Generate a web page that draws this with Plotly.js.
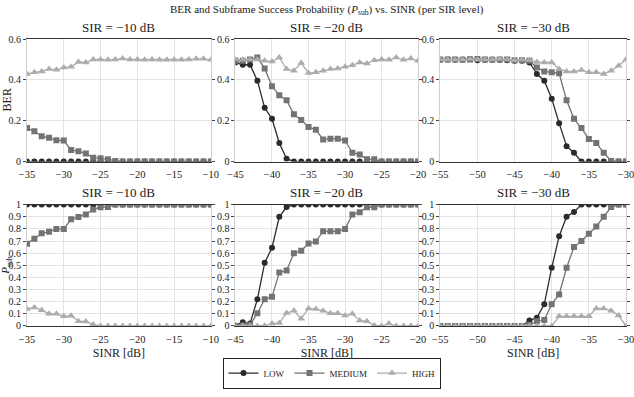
<!DOCTYPE html>
<html>
<head>
<meta charset="utf-8">
<script src="https://cdn.plot.ly/plotly-3.0.1.min.js"></script>
<style>
  html, body { margin: 0; padding: 0; background: #fff; }
  #plot { width: 634px; height: 397px; }
</style>
</head>
<body>
<div id="plot"></div>
<script>
// SINR axes (dB) for each SIR level
const sinr10 = [-35,-34,-33,-32,-31,-30,-29,-28,-27,-26,-25,-24,-23,-22,-21,-20,-19,-18,-17,-16,-15,-14,-13,-12,-11,-10];
const sinr20 = [-45,-44,-43,-42,-41,-40,-39,-38,-37,-36,-35,-34,-33,-32,-31,-30,-29,-28,-27,-26,-25,-24,-23,-22,-21,-20];
const sinr30 = [-55,-54,-53,-52,-51,-50,-49,-48,-47,-46,-45,-44,-43,-42,-41,-40,-39,-38,-37,-36,-35,-34,-33,-32,-31,-30];

const levels = ["LOW", "MEDIUM", "HIGH"];
const sirTitles = ["SIR = \u221210 dB", "SIR = \u221220 dB", "SIR = \u221230 dB"];

// BER, SIR = -10 dB
const ber10_low  = [0,0,0,0,0,0,0,0,0,0,0,0,0,0,0,0,0,0,0,0,0,0,0,0,0,0];
const ber10_med  = [0.164,0.148,0.124,0.116,0.104,0.103,0.056,0.051,0.039,0.019,0.016,0.011,0.003,0,0,0,0,0,0,0,0,0,0,0,0,0];
const ber10_high = [0.429,0.437,0.441,0.453,0.449,0.461,0.464,0.488,0.485,0.5,0.5,0.498,0.5,0.505,0.5,0.5,0.498,0.5,0.498,0.498,0.498,0.498,0.5,0.503,0.503,0.498];
// BER, SIR = -20 dB
const ber20_low  = [0.485,0.474,0.474,0.396,0.263,0.209,0.091,0.014,0,0,0,0,0,0,0,0,0,0,0,0,0,0,0,0,0,0];
const ber20_med  = [0.493,0.493,0.5,0.509,0.456,0.369,0.324,0.3,0.231,0.204,0.169,0.156,0.108,0.112,0.112,0.103,0.043,0.035,0.011,0.011,0,0,0,0,0,0];
const ber20_high = [0.5,0.498,0.5,0.5,0.493,0.49,0.509,0.453,0.445,0.482,0.433,0.437,0.445,0.453,0.456,0.464,0.472,0.485,0.48,0.496,0.5,0.498,0.509,0.498,0.504,0.493];
// BER, SIR = -30 dB
const ber30_low  = [0.498,0.5,0.498,0.5,0.502,0.496,0.498,0.5,0.498,0.496,0.493,0.493,0.485,0.429,0.396,0.308,0.188,0.075,0.043,0,0,0,0,0,0,0];
const ber30_med  = [0.5,0.5,0.5,0.498,0.5,0.502,0.5,0.498,0.5,0.5,0.496,0.496,0.493,0.46,0.441,0.437,0.432,0.3,0.209,0.164,0.111,0.091,0.043,0.003,0,0];
const ber30_high = [0.5,0.5,0.498,0.5,0.502,0.5,0.5,0.5,0.502,0.5,0.496,0.498,0.496,0.488,0.485,0.485,0.453,0.441,0.441,0.448,0.437,0.437,0.429,0.445,0.469,0.5];

// P_sub, SIR = -10 dB
const psub10_low  = [1,1,1,1,1,1,1,1,1,1,1,1,1,1,1,1,1,1,1,1,1,1,1,1,1,1];
const psub10_med  = [0.677,0.718,0.763,0.777,0.798,0.8,0.879,0.898,0.919,0.96,0.978,0.98,1,1,1,1,1,1,1,1,1,1,1,1,1,1];
const psub10_high = [0.14,0.153,0.13,0.1,0.1,0.08,0.085,0.04,0.038,0.013,0,0,0,0,0,0,0,0,0,0,0,0,0,0,0,0];
// P_sub, SIR = -20 dB
const psub20_low  = [0.005,0.03,0.02,0.22,0.52,0.645,0.9,0.98,1,1,1,1,1,1,1,1,1,1,1,1,1,1,1,1,1,1];
const psub20_med  = [0,0.005,0.01,0.105,0.22,0.24,0.44,0.457,0.6,0.62,0.68,0.696,0.78,0.78,0.78,0.8,0.919,0.938,0.978,0.978,1,1,1,1,1,1];
const psub20_high = [0,0,0,0,0.003,0.02,0.025,0.107,0.126,0.06,0.145,0.14,0.126,0.105,0.105,0.086,0.1,0.046,0.04,0.005,0,0.02,0,0,0,0];
// P_sub, SIR = -30 dB
const psub30_low  = [0,0,0,0,0,0,0,0,0,0,0,0,0.046,0.067,0.18,0.48,0.74,0.9,0.94,1,1,1,1,1,1,1];
const psub30_med  = [0,0,0,0,0,0,0,0,0,0,0,0,0.01,0.04,0.05,0.18,0.26,0.48,0.65,0.7,0.76,0.82,0.9,0.98,1,1];
const psub30_high = [0,0,0,0,0,0,0,0,0,0,0,0,0,0,0,0,0.08,0.08,0.08,0.08,0.08,0.145,0.145,0.126,0.086,0];

const colors = ["#2b2b2b", "#737373", "#acacac"];
const symbols = ["circle", "square", "triangle-up"];
const font = "Liberation Serif";

const panels = [
    {x: sinr10, ys: [ber10_low, ber10_med, ber10_high]},
    {x: sinr20, ys: [ber20_low, ber20_med, ber20_high]},
    {x: sinr30, ys: [ber30_low, ber30_med, ber30_high]},
    {x: sinr10, ys: [psub10_low, psub10_med, psub10_high]},
    {x: sinr20, ys: [psub20_low, psub20_med, psub20_high]},
    {x: sinr30, ys: [psub30_low, psub30_med, psub30_high]},
];

const traces = [];
panels.forEach((pn, i) => {
    pn.ys.forEach((y, k) => {
        traces.push({
            x: pn.x, y: y,
            xaxis: i === 0 ? "x" : "x" + (i + 1),
            yaxis: i === 0 ? "y" : "y" + (i + 1),
            mode: "lines+markers",
            name: levels[k],
            legendgroup: levels[k],
            showlegend: i === 0,
            line: {color: colors[k], width: 1.3},
            marker: {color: colors[k], symbol: symbols[k], size: k === 2 ? 7 : 6},
        });
    });
});

const xdom = [[0, 0.307], [0.348, 0.653], [0.690, 1.0]];
const ydom = [[0.573, 1.0], [0, 0.423]];
const xranges = [[-35, -10], [-45, -20], [-55, -30]];

const layout = {
    width: 634, height: 397,
    margin: {l: 27, r: 8, t: 39, b: 65},
    paper_bgcolor: "#fff", plot_bgcolor: "#fff",
    font: {family: font, size: 11, color: "#222"},
    showlegend: true,
    legend: {
        orientation: "h", x: 0.51, xanchor: "center", y: -0.11, yanchor: "top",
        bordercolor: "#222", borderwidth: 1, font: {size: 9, family: font},
        itemwidth: 30, tracegroupgap: 0,
    },
    annotations: [
        {text: "BER and Subframe Success Probability (<i>P</i><sub>sub</sub>) vs. SINR (per SIR level)",
         xref: "paper", yref: "paper", x: 0.5, y: 1 + 30 / 293, xanchor: "center", yanchor: "middle",
         showarrow: false, font: {size: 11, family: font}},
        {text: "BER", xref: "paper", yref: "paper", x: -20 / 599, y: 0.786, textangle: -90,
         xanchor: "center", yanchor: "middle", showarrow: false, font: {size: 12, family: font}},
        {text: "<i>P</i><sub>sub</sub>", xref: "paper", yref: "paper", x: -21 / 599, y: 0.21, textangle: -90,
         xanchor: "center", yanchor: "middle", showarrow: false, font: {size: 11, family: font}},
    ],
};

for (let i = 0; i < 6; i++) {
    const col = i % 3, row = Math.floor(i / 3);
    const sfx = i === 0 ? "" : String(i + 1);
    const xa = {
        domain: xdom[col], anchor: "y" + sfx, range: xranges[col], dtick: 5,
        showgrid: true, gridcolor: "#e3e3e3", zeroline: false,
        showline: true, linecolor: "#333", linewidth: 1, mirror: true,
        ticks: "", ticklabelstandoff: 3, ticklabeloverflow: "allow",
        tickfont: {size: 10.5, family: font},
    };
    if (row === 1) xa.title = {text: "SINR [dB]", font: {size: 12, family: font}, standoff: 5};
    layout["xaxis" + sfx] = xa;
    layout["yaxis" + sfx] = {
        domain: ydom[row], anchor: "x" + sfx,
        range: row === 0 ? [0, 0.6] : [0, 1], dtick: row === 0 ? 0.2 : 0.1,
        showgrid: true, gridcolor: "#e3e3e3", zeroline: false,
        showline: true, linecolor: "#cfcfcf", mirror: "ticks",
        ticks: "outside", ticklen: 3, tickcolor: "#444",
        tickfont: {size: 10, family: font},
    };
    layout.annotations.push({
        text: sirTitles[col], xref: "paper", yref: "paper",
        x: (xdom[col][0] + xdom[col][1]) / 2, y: ydom[row][1] + 12 / 293,
        xanchor: "center", yanchor: "middle", showarrow: false, font: {size: 13, family: font},
    });
}

Plotly.newPlot("plot", traces, layout, {displayModeBar: false, staticPlot: true});
</script>
</body>
</html>
